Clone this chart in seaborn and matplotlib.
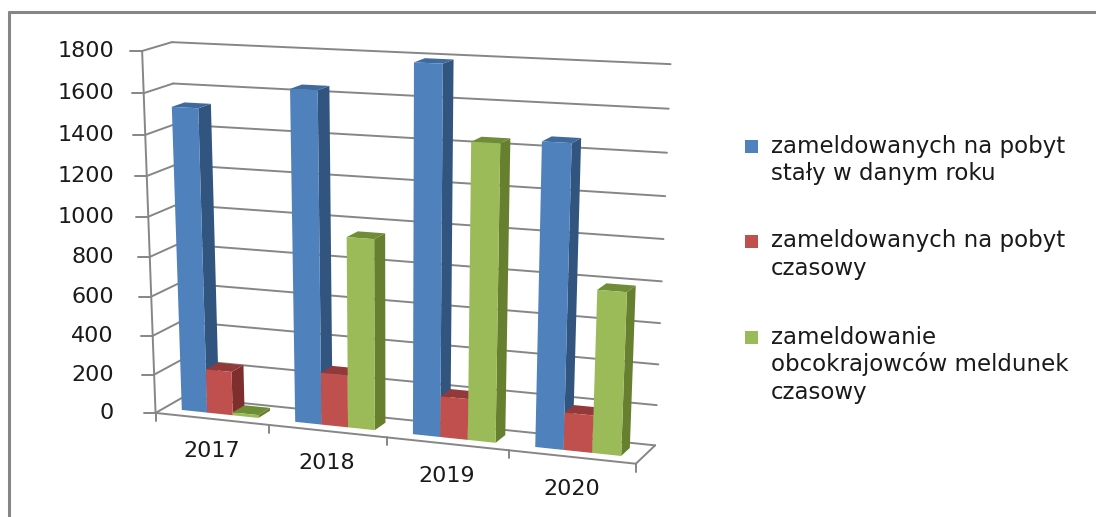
"""Excel style 3D column chart, bars laid out by seaborn and pushed through a 3D projection.
"""
import numpy as np
import pandas as pd
import matplotlib
matplotlib.use('Agg')
import matplotlib.pyplot as plt
import seaborn as sns
from matplotlib.lines import Line2D
from matplotlib.patches import Polygon, Rectangle
from matplotlib.transforms import Transform, IdentityTransform

years = ['2017', '2018', '2019', '2020']
stale = [1525, 1640, 1790, 1460]
czasowe = [225, 265, 205, 185]
obcokrajowcy = [15, 950, 1440, 790]
series_names = ['zameldowanych na pobyt\nstały w danym roku',
                'zameldowanych na pobyt\nczasowy',
                'zameldowanie\nobcokrajowców meldunek\nczasowy']
y_ticks = [0, 200, 400, 600, 800, 1000, 1200, 1400, 1600, 1800]

front_colors = ['#4F81BD', '#C0504D', '#9BBB59']
side_colors = ['#325580', '#7E2F2D', '#66802F']
top_colors = ['#3E6A9E', '#93393A', '#6F8C37']
GRID = '#868686'
W, H = 1096, 517
FONT = 'DejaVu Sans'
BAR_D0, BAR_D1 = 0.30, 0.74

# where the box corners sit in the image: (category pos, depth, value) -> pixel
calib_world = [(-.5, 0, 0), (3.5, 0, 0), (-.5, 1, 0), (3.5, 1, 0),
               (-.5, 0, 1800), (3.5, 0, 1800), (-.5, 1, 1800), (3.5, 1, 1800)]
calib_px = [(156, 412), (636, 465), (183, 398), (655, 444),
            (142, 50), (650, 75), (172, 43), (671, 63.5)]


def fit_camera(world, px):
    rows, rhs = [], []
    for (u, d, v), (x, y) in zip(world, px):
        v = v / 1800
        rows.append([u, d, v, 1, 0, 0, 0, 0, -x * u, -x * d, -x * v])
        rows.append([0, 0, 0, 0, u, d, v, 1, -y * u, -y * d, -y * v])
        rhs += [x, y]
    p = np.linalg.lstsq(np.array(rows, float), np.array(rhs, float), rcond=None)[0]
    return np.append(p, 1).reshape(3, 4)


CAM = fit_camera(calib_world, calib_px)


def project(u, d, v):
    """Returns display coordinates (y up) of a point in chart space."""
    q = CAM @ np.array([u, d, v / 1800, 1.0])
    return q[0] / q[2], H - q[1] / q[2]


class FrontPlane(Transform):
    """Maps bar data (x, value) on to the plane of the bar fronts."""
    input_dims = 2
    output_dims = 2
    is_affine = False

    def transform_non_affine(self, values):
        return np.array([project(u, BAR_D0, v) for u, v in np.asarray(values)])


def pline(fig, p0, p1, color=GRID, lw=1.4, z=1):
    fig.add_artist(Line2D([p0[0], p1[0]], [p0[1], p1[1]], color=color, lw=lw, zorder=z,
                          transform=IdentityTransform(), solid_capstyle='round'))


def label(fig, x, y, s, **kw):
    fig.text(x, y, s, transform=IdentityTransform(), family=FONT, color='#1a1a1a',
             **kw)


sns.set_theme(style='white')
plt.rcParams['font.family'] = FONT

df = pd.DataFrame({
    'rok': years * 3,
    'seria': sum([[n] * 4 for n in series_names], []),
    'liczba': stale + czasowe + obcokrajowcy,
})

fig, ax = plt.subplots(figsize=(W / 100, H / 100), dpi=100)
ax.set_axis_off()
sns.barplot(data=df, x='rok', y='liczba', hue='seria', palette=front_colors, saturation=1,
            width=0.68, gap=0, legend=False, ax=ax)

# frame of the pasted picture
pline(fig, (8.5, 0), (8.5, H - 12), lw=2.2)
pline(fig, (8.5, H - 12), (W, H - 12), lw=2.2)

# walls and floor
for val in y_ticks:
    pline(fig, project(-.5, 1, val), project(3.5, 1, val))
    pline(fig, project(-.5, 0, val), project(-.5, 1, val))
    fx, fy = project(-.5, 0, val)
    pline(fig, (fx - 12, fy), (fx, fy))
    label(fig, 114, fy, str(val), ha='right', va='center', fontsize=16)
pline(fig, project(-.5, 0, 0), project(-.5, 0, 1800))
pline(fig, project(-.5, 0, 0), project(3.5, 0, 0))
pline(fig, project(3.5, 0, 0), project(3.5, 1, 0))
for k in range(5):
    tx, ty = project(k - .5, 0, 0)
    pline(fig, (tx, ty), (tx, ty - 8))
for k, yr in enumerate(years):
    tx, ty = project(k, 0, 0)
    label(fig, tx, ty - 32, yr, ha='center', va='center', fontsize=16)

# bars: front from seaborn, side and top from the same rectangle
for s, cont in enumerate(ax.containers):
    for bar in cont:
        x0, x1 = bar.get_x(), bar.get_x() + bar.get_width()
        h = bar.get_height()
        z = 3 + bar.get_x() * 3 + s
        bar.remove()
        fig.add_artist(bar)
        bar.set_transform(FrontPlane())
        bar.set_clip_on(False)
        bar.set_linewidth(0)
        bar.set_zorder(z + .2)
        side = [project(x1, BAR_D0, 0), project(x1, BAR_D1, 0),
                project(x1, BAR_D1, h), project(x1, BAR_D0, h)]
        top = [project(x0, BAR_D0, h), project(x1, BAR_D0, h),
               project(x1, BAR_D1, h), project(x0, BAR_D1, h)]
        fig.add_artist(Polygon(side, closed=True, fc=side_colors[s], lw=0, zorder=z,
                               transform=IdentityTransform()))
        fig.add_artist(Polygon(top, closed=True, fc=top_colors[s], lw=0, zorder=z + .1,
                               transform=IdentityTransform()))

# legend
legend_y = [146, 241, 337]
line_gap = 27.5
for s, name in enumerate(series_names):
    fig.add_artist(Rectangle((745, H - legend_y[s] - 6.5), 13, 13, fc=front_colors[s], lw=0,
                             transform=IdentityTransform()))
    for i, line in enumerate(name.split('\n')):
        label(fig, 771, H - legend_y[s] - i * line_gap, line, ha='left', va='center', fontsize=16.5)

fig.savefig('out.png', dpi=100)
